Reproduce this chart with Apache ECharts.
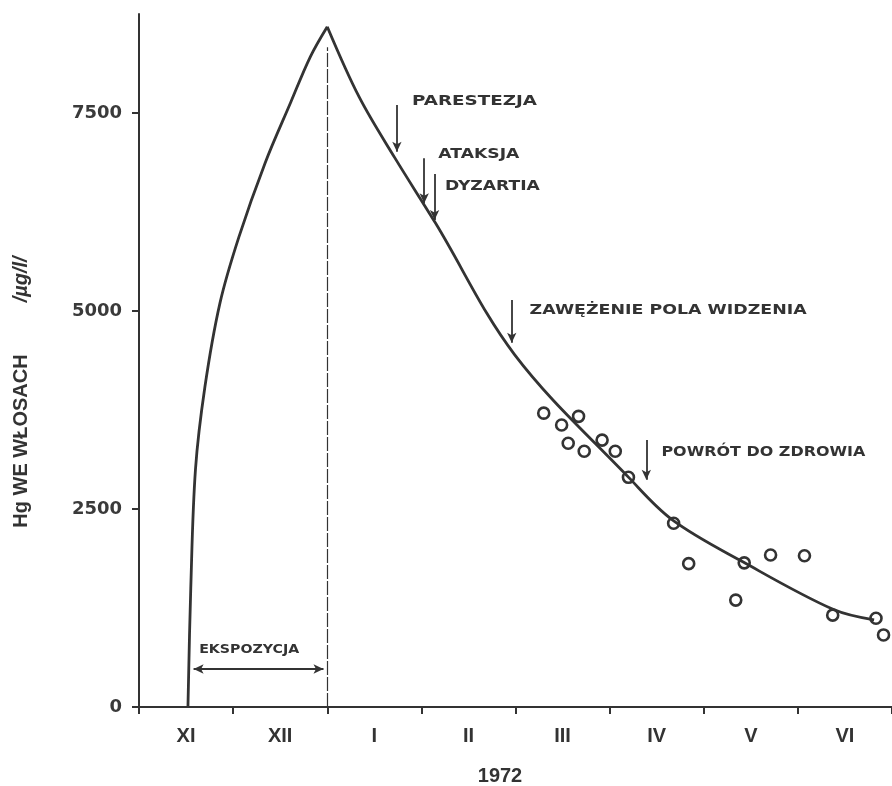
<!DOCTYPE html>
<html><head><meta charset="utf-8">
<script src="https://cdn.jsdelivr.net/npm/echarts@6/dist/echarts.min.js"></script>
<style>html,body{margin:0;padding:0;background:#fff}#c{width:892px;height:786px}</style>
</head><body><div id="c"></div>
<script>
// ---- data (x in months from 1 Nov 1971, y in µg/g) ----
const monthLabels = ['XI', 'XII', 'I', 'II', 'III', 'IV', 'V', 'VI'];
const monthTicks = [0, 1, 2, 3, 4, 5, 6, 7, 8];
const monthCenters = [0.5, 1.5, 2.5, 3.5, 4.5, 5.5, 6.5, 7.5];
const yTicks = [0, 2500, 5000, 7500];
const riseX = [0.52, 0.55, 0.60, 0.70, 0.86, 1.06, 1.34, 1.61, 1.82, 2.00];
const riseY = [0, 1500, 3000, 4040, 5100, 5930, 6870, 7630, 8210, 8590];
const decayX = [2.00, 2.34, 2.72, 3.15, 3.99, 5.21, 5.67, 6.42, 7.38, 7.81];
const decayY = [8590, 7700, 6930, 6110, 4450, 2890, 2360, 1830, 1230, 1100];
const sampleX = [4.30, 4.49, 4.67, 4.56, 4.73, 4.92, 5.06, 5.20, 5.68, 5.84, 6.34, 6.43, 6.71, 7.07, 7.37, 7.83, 7.91];
const sampleY = [3710, 3560, 3670, 3330, 3230, 3370, 3230, 2900, 2320, 1810, 1350, 1820, 1920, 1910, 1160, 1120, 910];
const exposureStart = 0.58, exposureEnd = 1.96, exposureLevel = 480;
const exposureLabel = 'EKSPOZYCJA', exposureLabelX = 1.17, exposureLabelY = 720;
const peakLineX = 2.0, peakLineTop = 8330;
const symptomNames = ['PARESTEZJA', 'ATAKSJA', 'DYZARTIA', 'ZAWĘŻENIE POLA WIDZENIA', 'POWRÓT DO ZDROWIA'];
const symptomX = [2.74, 3.03, 3.14, 3.96, 5.39];
const symptomArrowTop = [7600, 6930, 6730, 5140, 3370];
const symptomArrowTip = [7010, 6360, 6150, 4600, 2870];
const symptomLabelX = [2.90, 3.18, 3.25, 4.15, 5.55];
const symptomLabelY = [7650, 6980, 6580, 5010, 3220];

// ---- styles ----
const INK = '#333';
const labelWidths = [125, 81, 95, 277, 204];
const exposureWidth = 100;
const annFont = 'bold 14px "DejaVu Sans"';

const zip = (a, b) => a.map((v, i) => [v, b[i]]);

const markLines = symptomX.map((x, i) => [
  { coord: [x, symptomArrowTop[i]], symbol: 'none' },
  { coord: [x, symptomArrowTip[i]], symbol: 'arrow' }
]);
markLines.push([
  { coord: [exposureStart, exposureLevel], symbol: 'arrow' },
  { coord: [exposureEnd, exposureLevel], symbol: 'arrow' }
]);
markLines.push([
  { coord: [peakLineX, 0], symbol: 'none', lineStyle: { width: 1.2, type: [14, 2] } },
  { coord: [peakLineX, peakLineTop], symbol: 'none' }
]);

const chart = echarts.init(document.getElementById('c'), null, { renderer: 'canvas' });
chart.setOption({
  backgroundColor: '#fff',
  animation: false,
  grid: { left: 139, right: 0, top: 14, bottom: 79 },
  xAxis: {
    type: 'value', min: 0, max: 8, interval: 1,
    splitLine: { show: false },
    axisLine: { lineStyle: { color: INK, width: 2 } },
    axisTick: { customValues: monthTicks, length: 7, lineStyle: { color: INK, width: 2 } },
    axisLabel: {
      customValues: monthCenters,
      formatter: v => monthLabels[Math.floor(v)],
      margin: 19, color: INK,
      fontFamily: '"Liberation Sans Narrow", "Liberation Sans", sans-serif',
      fontWeight: 'bold', fontSize: 20
    }
  },
  yAxis: {
    type: 'value', min: 0, max: 8750, interval: 2500,
    splitLine: { show: false },
    axisLine: { lineStyle: { color: INK, width: 2 } },
    axisTick: { customValues: yTicks, length: 7, lineStyle: { color: INK, width: 2 } },
    axisLabel: {
      customValues: yTicks, margin: 17, color: '#3a3a3a',
      formatter: v => String(v),
      fontFamily: '"DejaVu Sans", sans-serif', fontWeight: 'bold', fontSize: 18
    }
  },
  series: [
    {
      type: 'line', name: 'rise', data: zip(riseX, riseY), smooth: 0.35,
      showSymbol: false, silent: true,
      lineStyle: { color: INK, width: 2.8 }
    },
    {
      type: 'line', name: 'decay', data: zip(decayX, decayY), smooth: 0.35,
      showSymbol: false, silent: true,
      lineStyle: { color: INK, width: 2.8 },
      markLine: {
        silent: true, animation: false,
        symbol: ['none', 'arrow'], symbolSize: [7, 10],
        label: { show: false },
        lineStyle: { color: INK, width: 1.8, type: 'solid' },
        data: markLines
      }
    },
    {
      type: 'scatter', name: 'samples', data: zip(sampleX, sampleY),
      symbol: 'circle', symbolSize: 11, silent: true,
      itemStyle: { color: '#fff', borderColor: INK, borderWidth: 2.6, opacity: 1 }
    }
  ]
});

// annotations placed from data coordinates
const ctx = document.createElement('canvas').getContext('2d');
function stretchedText(text, dataX, dataY, width, font, align) {
  ctx.font = font;
  const w = ctx.measureText(text).width || 1;
  const p = chart.convertToPixel({ gridIndex: 0 }, [dataX, dataY]);
  const s = width / w;
  return {
    type: 'text', x: align === 'center' ? p[0] - width / 2 : p[0], y: p[1],
    scaleX: s, silent: true,
    style: { text, font, fill: INK, textAlign: 'left', textVerticalAlign: 'middle', verticalAlign: 'middle' }
  };
}
const graphics = symptomNames.map((t, i) =>
  stretchedText(t, symptomLabelX[i], symptomLabelY[i], labelWidths[i], annFont, 'left'));
graphics.push(stretchedText(exposureLabel, exposureLabelX, exposureLabelY, exposureWidth,
  'bold 12px "DejaVu Sans Condensed", "DejaVu Sans"', 'center'));
graphics.push({
  type: 'text', x: 500, y: 776, silent: true,
  style: { text: '1972', font: 'bold 20px "Liberation Sans Narrow", "Liberation Sans"', fill: INK,
    textAlign: 'center', textVerticalAlign: 'middle', verticalAlign: 'middle' }
});
graphics.push({
  type: 'text', x: 21, y: 392, rotation: Math.PI / 2, silent: true,
  style: {
    text: '{a|Hg WE WŁOSACH}{b|/µg/l/}',
    textAlign: 'center', textVerticalAlign: 'middle', verticalAlign: 'middle',
    rich: {
      a: { fill: INK, fontSize: 20, fontWeight: 'bold', fontFamily: '"Liberation Sans"' },
      b: { fill: INK, fontSize: 20, fontStyle: 'italic', fontWeight: 'bold', fontFamily: '"Liberation Sans"', padding: [0, 0, 0, 52] }
    }
  }
});
chart.setOption({ graphic: { elements: graphics } });
</script></body></html>
